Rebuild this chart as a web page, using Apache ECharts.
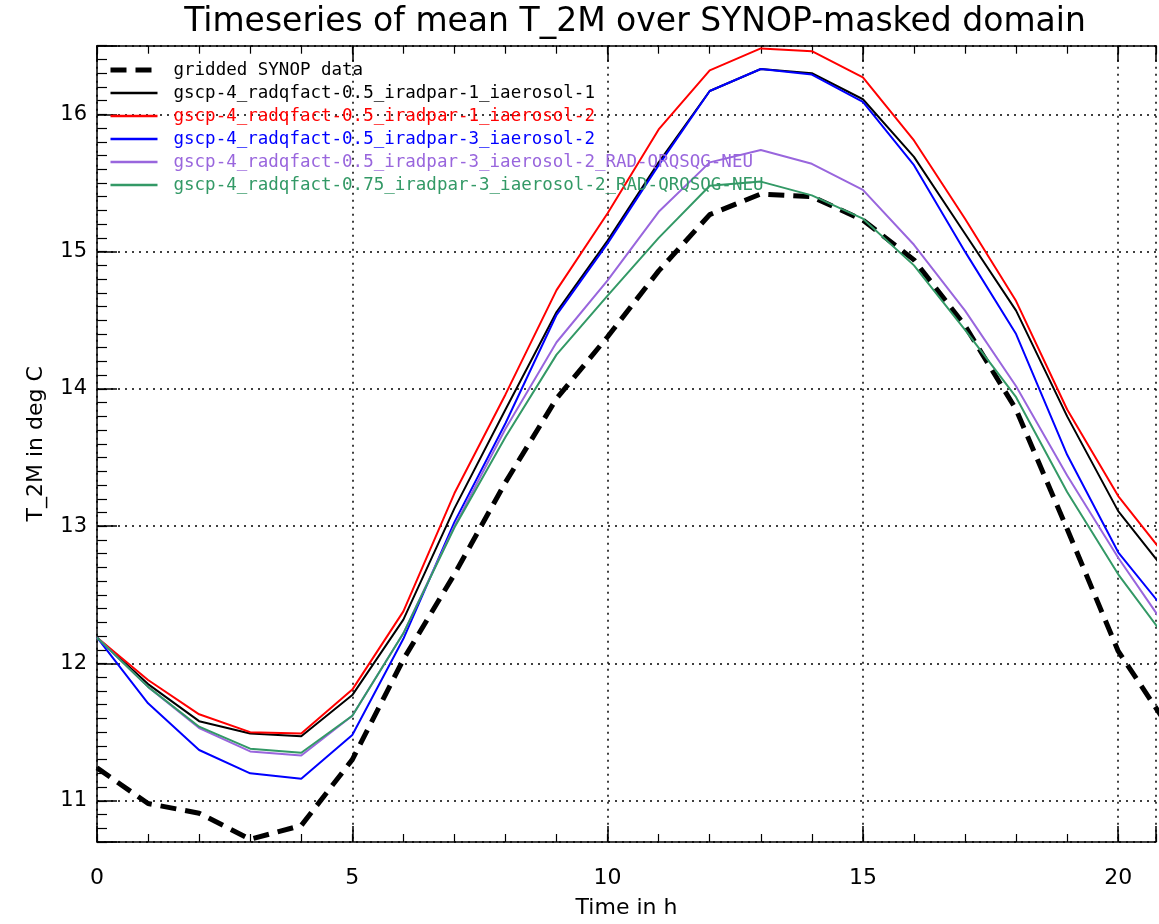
<!DOCTYPE html>
<html>
<head>
<meta charset="utf-8">
<title>Timeseries of mean T_2M</title>
<script src="https://cdn.jsdelivr.net/npm/echarts@6/dist/echarts.min.js"></script>
<style>
  html, body { margin: 0; padding: 0; background: #fff; }
  #main { width: 1159px; height: 924px; }
</style>
</head>
<body>
<div id="main"></div>
<script>
// hours after start
var hours = [0, 1, 2, 3, 4, 5, 6, 7, 8, 9, 10, 11, 12, 13, 14, 15, 16, 17, 18, 19, 20, 21];

// mean T_2M (deg C)
var synop   = [11.24, 10.98, 10.91, 10.72, 10.82, 11.30, 12.03, 12.65, 13.32, 13.93, 14.38, 14.86, 15.27, 15.42, 15.40, 15.23, 14.94, 14.46, 13.85, 12.98, 12.09, 11.53];
var run1    = [12.19, 11.85, 11.58, 11.49, 11.47, 11.77, 12.32, 13.13, 13.85, 14.56, 15.08, 15.65, 16.17, 16.33, 16.30, 16.11, 15.69, 15.13, 14.57, 13.80, 13.11, 12.64];
var run2    = [12.19, 11.88, 11.63, 11.50, 11.49, 11.81, 12.38, 13.24, 13.96, 14.72, 15.28, 15.89, 16.32, 16.48, 16.46, 16.27, 15.81, 15.24, 14.64, 13.85, 13.22, 12.75];
var run3    = [12.19, 11.71, 11.37, 11.20, 11.16, 11.48, 12.18, 13.03, 13.75, 14.54, 15.06, 15.63, 16.17, 16.33, 16.29, 16.09, 15.63, 15.00, 14.40, 13.52, 12.81, 12.35];
var run4    = [12.19, 11.83, 11.53, 11.36, 11.33, 11.62, 12.22, 13.00, 13.71, 14.34, 14.79, 15.29, 15.65, 15.74, 15.64, 15.45, 15.05, 14.57, 14.02, 13.37, 12.77, 12.23];
var run5    = [12.19, 11.83, 11.54, 11.38, 11.35, 11.62, 12.22, 12.99, 13.65, 14.25, 14.68, 15.10, 15.48, 15.51, 15.41, 15.24, 14.90, 14.43, 13.94, 13.25, 12.65, 12.15];

var names = [
  'gridded SYNOP data',
  'gscp-4_radqfact-0.5_iradpar-1_iaerosol-1',
  'gscp-4_radqfact-0.5_iradpar-1_iaerosol-2',
  'gscp-4_radqfact-0.5_iradpar-3_iaerosol-2',
  'gscp-4_radqfact-0.5_iradpar-3_iaerosol-2_RAD-QRQSQG-NEU',
  'gscp-4_radqfact-0.75_iradpar-3_iaerosol-2_RAD-QRQSQG-NEU'
];
var colors = ['#000000', '#000000', '#ff0000', '#0000ff', '#9966dd', '#339966'];
var values = [synop, run1, run2, run3, run4, run5];

var font = 'DejaVu Sans';
var xMax = 20.74, yMin = 10.7, yMax = 16.5;

function pairs(arr){
  return hours.map(function(h, i){ return [h, arr[i]]; });
}

var chart = echarts.init(document.getElementById('main'));

var series = values.map(function(arr, i){
  return {
    name: names[i],
    type: 'line',
    data: pairs(arr),
    symbol: 'none',
    clip: true,
    lineStyle: {
      color: colors[i],
      width: i === 0 ? 5 : 2,
      type: i === 0 ? [16, 9] : 'solid'
    },
    itemStyle: { color: colors[i] }
  };
});

//common bits for the extra tick-only axes
var noLabel = { show: false };
var noSplit = { show: false };

chart.setOption({
  backgroundColor: '#fff',
  animation: false,
  title: {
    text: 'Timeseries of mean T_2M over SYNOP-masked domain',
    left: 630,
    textAlign: 'center',
    top: 1,
    textStyle: { fontFamily: font, fontSize: 33, fontWeight: 'normal', color: '#000' }
  },
  legend: {
    orient: 'vertical',
    left: 103,
    top: 55,
    itemWidth: 47,
    itemHeight: 10,
    itemGap: 3,
    //hide the round marker, keep only the line sample
    itemStyle: { color: 'rgba(0,0,0,0)', borderWidth: 0 },
    data: names.map(function(n, i){
      return {
        name: n,
        textStyle: { color: colors[i] },
        lineStyle: { width: i === 0 ? 5 : 2.5 }
      };
    }),
    textStyle: { fontFamily: 'DejaVu Sans Mono', fontSize: 17.5, lineHeight: 20, padding: [0, 0, 0, 11] }
  },
  grid: { left: 97, right: 0, top: 45.7, bottom: 74.4 },
  xAxis: [
    {
      type: 'value', position: 'bottom', min: 0, max: xMax, interval: 5,
      name: 'Time in h', nameLocation: 'middle', nameGap: 55,
      nameTextStyle: { fontFamily: font, fontSize: 22, color: '#000' },
      axisLine: { show: true, lineStyle: { color: '#000', width: 1.5 } },
      axisTick: { show: true, inside: true, length: 16, lineStyle: { color: '#000', width: 1.5 } },
      axisLabel: {
        margin: 25, fontFamily: font, fontSize: 22, color: '#000',
        formatter: function(v){ return v % 5 === 0 ? v : ''; }
      },
      splitLine: { show: true, lineStyle: { color: '#000', width: 1.5, type: [2, 5] } }
    },
    {
      type: 'value', position: 'bottom', min: 0, max: xMax, interval: 1,
      axisLine: { show: false },
      axisTick: { show: true, inside: true, length: 8, lineStyle: { color: '#000', width: 1.2 } },
      axisLabel: noLabel, splitLine: noSplit
    },
    {
      type: 'value', position: 'top', min: 0, max: xMax, interval: 5,
      axisLine: { show: true, lineStyle: { color: '#000', width: 1.5 } },
      axisTick: { show: true, inside: true, length: 16, lineStyle: { color: '#000', width: 1.5 } },
      axisLabel: noLabel, splitLine: noSplit
    },
    {
      type: 'value', position: 'top', min: 0, max: xMax, interval: 1,
      axisLine: { show: false },
      axisTick: { show: true, inside: true, length: 8, lineStyle: { color: '#000', width: 1.2 } },
      axisLabel: noLabel, splitLine: noSplit
    }
  ],
  yAxis: [
    {
      type: 'value', position: 'left', min: yMin, max: yMax, minInterval: 1, maxInterval: 1,
      name: 'T_2M in deg C', nameLocation: 'middle', nameGap: 50,
      nameTextStyle: { fontFamily: font, fontSize: 22, color: '#000' },
      axisLine: { show: true, lineStyle: { color: '#000', width: 1.5 } },
      axisTick: { show: true, inside: true, length: 20, lineStyle: { color: '#000', width: 1.5 } },
      axisLabel: {
        margin: 10, fontFamily: font, fontSize: 21, color: '#000',
        formatter: function(v){ return Math.abs(v - Math.round(v)) < 1e-6 ? Math.round(v) : ''; }
      },
      splitLine: { show: true, lineStyle: { color: '#000', width: 1.5, type: [2, 5] } }
    },
    {
      type: 'value', position: 'left', min: yMin, max: yMax, interval: 0.1,
      axisLine: { show: false },
      axisTick: { show: true, inside: true, length: 10, lineStyle: { color: '#000', width: 1.2 } },
      axisLabel: noLabel, splitLine: noSplit
    }
  ],
  series: series
});
</script>
</body>
</html>
